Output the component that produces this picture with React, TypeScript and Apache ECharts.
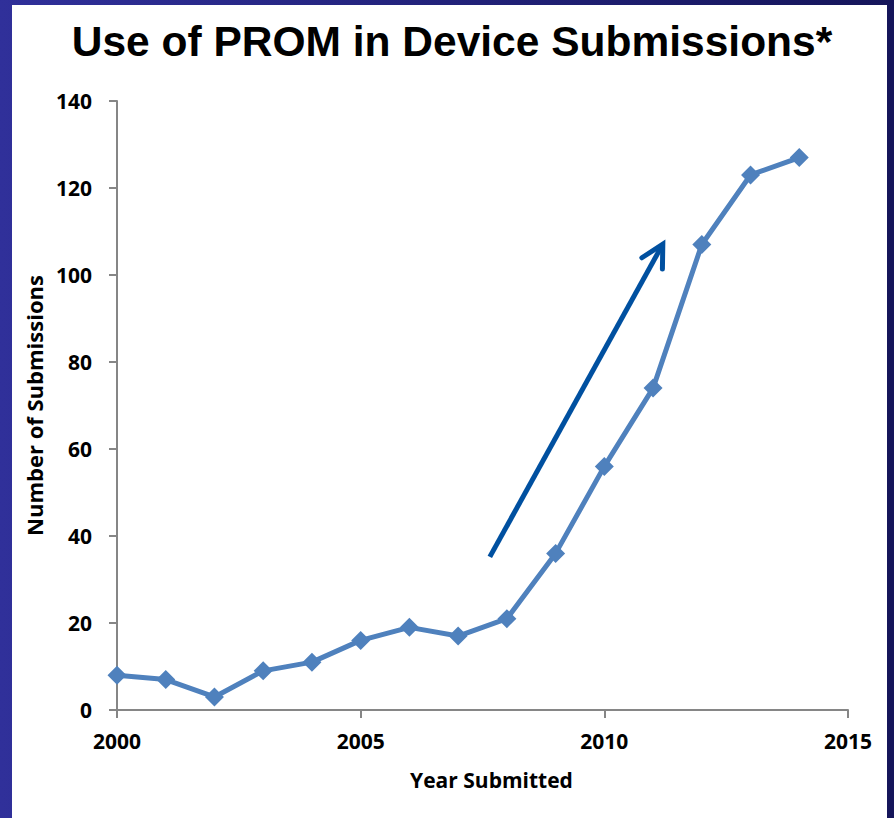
import React, { useEffect, useRef } from "react";
import * as echarts from "echarts";

const years = [2000, 2001, 2002, 2003, 2004, 2005, 2006, 2007, 2008, 2009, 2010, 2011, 2012, 2013, 2014];
const submissions = [8, 7, 3, 9, 11, 16, 19, 17, 21, 36, 56, 74, 107, 123, 127];
const arrowFrom = [2007.65, 35.2];
const arrowTo = [2011.2, 107.1];
const titleText = "Use of PROM in Device Submissions*";
const xName = "Year Submitted";
const yName = "Number of Submissions";

export default function App() {
  const ref = useRef<HTMLDivElement>(null);
  useEffect(() => {
    if (!ref.current) return;
    const chart = echarts.init(ref.current, null, { renderer: "svg" });
    const axisColor = "#868686";
    const labelFont = {
      fontFamily: "'Open Sans', sans-serif",
      fontWeight: "bold" as const,
      fontSize: 21,
      color: "#000",
    };
    chart.setOption({
      animation: false,
      backgroundColor: "transparent",
      graphic: [
        {
          type: "rect",
          z: -10,
          silent: true,
          shape: { x: 12, y: 5, width: 875, height: 813 },
          style: { fill: "#ffffff" },
        },
        {
          type: "text",
          x: 452,
          y: 20,
          style: {
            text: titleText,
            textAlign: "center",
            textVerticalAlign: "top",
            font: "bold 42.5px 'Liberation Sans', Arial, sans-serif",
            fill: "#000",
          },
        },
      ],
      grid: { left: 117, right: 46, top: 101, bottom: 108, containLabel: false },
      xAxis: {
        type: "value",
        min: 2000,
        max: 2015,
        interval: 5,
        name: xName,
        nameLocation: "middle",
        nameGap: 59,
        nameTextStyle: { ...labelFont, padding: [0, 0, 0, 18] },
        axisLine: { show: true, lineStyle: { color: axisColor, width: 2 } },
        axisTick: { show: true, length: 8, lineStyle: { color: axisColor, width: 2 } },
        axisLabel: { ...labelFont, margin: 20, formatter: (v: number) => String(v) },
        splitLine: { show: false },
      },
      yAxis: {
        type: "value",
        min: 0,
        max: 140,
        interval: 20,
        name: yName,
        nameLocation: "middle",
        nameGap: 72,
        nameTextStyle: { ...labelFont, fontSize: 22 },
        axisLine: { show: true, lineStyle: { color: axisColor, width: 2 } },
        axisTick: { show: true, length: 8, lineStyle: { color: axisColor, width: 2 } },
        axisLabel: { ...labelFont, margin: 25 },
        splitLine: { show: false },
      },
      series: [
        {
          type: "line",
          data: years.map((y, i) => [y, submissions[i]]),
          symbol: "diamond",
          symbolSize: 19,
          itemStyle: { color: "#4f81bd" },
          lineStyle: { color: "#4f81bd", width: 5 },
          z: 3,
        },
        {
          type: "custom",
          coordinateSystem: "cartesian2d",
          silent: true,
          z: 4,
          data: [[arrowFrom[0], arrowFrom[1], arrowTo[0], arrowTo[1]]],
          renderItem: (_params: any, api: any) => {
            const p0 = api.coord([api.value(0), api.value(1)]);
            const p1 = api.coord([api.value(2), api.value(3)]);
            const dx = p0[0] - p1[0];
            const dy = p0[1] - p1[1];
            const ang = Math.atan2(dy, dx);
            const len = 25;
            const spread = (28 * Math.PI) / 180;
            const a1 = [p1[0] + len * Math.cos(ang + spread), p1[1] + len * Math.sin(ang + spread)];
            const a2 = [p1[0] + len * Math.cos(ang - spread), p1[1] + len * Math.sin(ang - spread)];
            const color = "#0050a0";
            return {
              type: "group",
              children: [
                {
                  type: "line",
                  shape: { x1: p0[0], y1: p0[1], x2: p1[0], y2: p1[1] },
                  style: { stroke: color, lineWidth: 5, lineCap: "butt" },
                },
                {
                  type: "polyline",
                  shape: { points: [a1, p1, a2] },
                  style: { stroke: color, lineWidth: 5, fill: null, lineCap: "round", lineJoin: "miter" },
                },
              ],
            };
          },
        },
      ],
    });
    return () => chart.dispose();
  }, []);
  return (
    <div
      style={{
        position: "absolute",
        left: 0,
        top: 0,
        width: 894,
        height: 818,
        background: "linear-gradient(90deg, #30309a 0%, #22227a 50%, #15155a 100%)",
      }}
    >
      <div ref={ref} style={{ width: 894, height: 818 }} />
    </div>
  );
}
